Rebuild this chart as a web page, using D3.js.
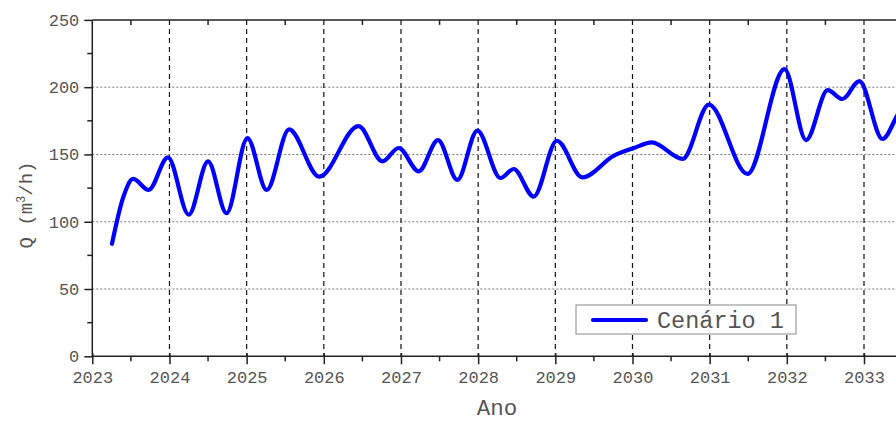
<!DOCTYPE html>
<html>
<head>
<meta charset="utf-8">
<script src="https://cdn.jsdelivr.net/npm/d3@7"></script>
<style>
  body { margin: 0; background: #fff; }
  svg { display: block; }
  text { font-family: "Courier New", "Liberation Mono", monospace; }
</style>
</head>
<body>
<div id="chart"></div>
<script>
// year (decimal) and flow Q in m3/h
const years = [2023.255, 2023.40, 2023.53, 2023.73, 2023.98, 2024.25, 2024.50, 2024.74, 2025.01, 2025.26,
    2025.55, 2025.94, 2026.45, 2026.76, 2026.97, 2027.23, 2027.48, 2027.73, 2027.99, 2028.29,
    2028.46, 2028.72, 2029.02, 2029.35, 2029.76, 2030.02, 2030.25, 2030.65, 2030.99, 2031.49,
    2031.97, 2032.25, 2032.53, 2032.72, 2032.94, 2033.24, 2033.43, 2033.6];
const values = [83.6, 118, 131.8, 123.6, 147.9, 105.3, 144.9, 106.3, 162.2, 123.6,
    168.6, 133.5, 171.1, 144.9, 154.8, 137.5, 160.7, 131.1, 167.7, 132.5,
    139.2, 118.7, 160.2, 133.0, 149.1, 154.8, 159.0, 146.7, 187.0, 135.5,
    213.4, 160.7, 197.8, 191.2, 204.5, 161.5, 178.8, 195];
const yearTicks = [2023, 2024, 2025, 2026, 2027, 2028, 2029, 2030, 2031, 2032, 2033];
const qTicks = [0, 50, 100, 150, 200, 250];
const seriesName = "Cenário 1";

const data = years.map((y, i) => ({ year: y, q: values[i] }));

const W = 896, H = 421;
const pLeft = 92.3, pTop = 19.9, pBottom = 356.3;

const svg = d3.select("#chart").append("svg")
    .attr("width", W)
    .attr("height", H);

const x = d3.scaleLinear().domain([2023, 2034]).range([pLeft, pLeft + 11 * 77.17]);
const y = d3.scaleLinear().domain([0, 250]).range([pBottom, pTop]);

/* grid */
svg.append("g").selectAll("line")
    .data(qTicks.filter(d => d > 0 && d < 250))
    .enter().append("line")
    .attr("x1", pLeft).attr("x2", W)
    .attr("y1", d => y(d)).attr("y2", d => y(d))
    .attr("stroke", "#777").attr("stroke-width", 1)
    .attr("stroke-dasharray", "2,2");

svg.append("g").selectAll("line")
    .data(yearTicks.filter(d => d > 2023))
    .enter().append("line")
    .attr("x1", d => x(d)).attr("x2", d => x(d))
    .attr("y1", pTop).attr("y2", pBottom)
    .attr("stroke", "#111").attr("stroke-width", 1.2)
    .attr("stroke-dasharray", "5,4");

/* curve */
svg.append("clipPath").attr("id", "plot")
    .append("rect").attr("x", pLeft).attr("y", pTop).attr("width", W - pLeft).attr("height", pBottom - pTop);

const line = d3.line()
    .x(d => x(d.year))
    .y(d => y(d.q))
    .curve(d3.curveMonotoneX);

svg.append("path")
    .datum(data)
    .attr("clip-path", "url(#plot)")
    .attr("fill", "none")
    .attr("stroke", "#0000ff")
    .attr("stroke-width", 4.2)
    .attr("stroke-linejoin", "round")
    .attr("stroke-linecap", "round")
    .attr("d", line);

/* axes */
const xAxis = d3.axisBottom(x).tickValues(yearTicks).tickFormat(d3.format("d")).tickSize(8).tickPadding(7);
const gx = svg.append("g").attr("transform", `translate(0,${pBottom})`).call(xAxis);
gx.select(".domain").remove();
gx.selectAll(".tick line").attr("y1", -3).attr("stroke", "#222").attr("stroke-width", 1.5);

const minorYears = d3.range(2023.5, 2034, 1);
svg.append("g").selectAll("line")
    .data(minorYears).enter().append("line")
    .attr("x1", d => x(d)).attr("x2", d => x(d))
    .attr("y1", pBottom).attr("y2", pBottom + 5)
    .attr("stroke", "#222").attr("stroke-width", 1.5);
svg.append("g").selectAll("line")
    .data(minorYears).enter().append("line")
    .attr("x1", d => x(d)).attr("x2", d => x(d))
    .attr("y1", pTop).attr("y2", pTop + 5)
    .attr("stroke", "#222").attr("stroke-width", 1.5);

const yAxis = d3.axisLeft(y).tickValues(qTicks).tickSize(8).tickPadding(5);
const gy = svg.append("g").attr("transform", `translate(${pLeft},0)`).call(yAxis);
gy.select(".domain").remove();
gy.selectAll(".tick line").attr("stroke", "#222").attr("stroke-width", 1.5);

svg.append("g").selectAll("line")
    .data(d3.range(25, 250, 50)).enter().append("line")
    .attr("x1", pLeft - 5).attr("x2", pLeft)
    .attr("y1", d => y(d)).attr("y2", d => y(d))
    .attr("stroke", "#222").attr("stroke-width", 1.5);

[gx, gy].forEach(g => g.selectAll(".tick text")
    .attr("fill", "#555")
    .style("font-size", "17px")
    .style("font-family", "\"Courier New\", \"Liberation Mono\", monospace"));

svg.append("line")
    .attr("x1", pLeft).attr("x2", W).attr("y1", pBottom).attr("y2", pBottom)
    .attr("stroke", "#222").attr("stroke-width", 1.5);
svg.append("line")
    .attr("x1", pLeft).attr("x2", W).attr("y1", pTop).attr("y2", pTop)
    .attr("stroke", "#222").attr("stroke-width", 1.5);
svg.append("line")
    .attr("x1", pLeft).attr("x2", pLeft).attr("y1", pTop).attr("y2", pBottom)
    .attr("stroke", "#222").attr("stroke-width", 1.5);

/* axis titles */
svg.append("text")
    .attr("x", 497).attr("y", 415)
    .attr("text-anchor", "middle")
    .attr("fill", "#555")
    .style("font-size", "22.5px")
    .text("Ano");

const yl = svg.append("text")
    .attr("transform", "translate(32,205) rotate(-90)")
    .attr("text-anchor", "middle")
    .attr("fill", "#555")
    .style("font-size", "19px");
yl.append("tspan").text("Q (m");
yl.append("tspan").attr("dy", -7).style("font-size", "12px").text("3");
yl.append("tspan").attr("dy", 7).text("/h)");

/* legend */
const lg = svg.append("g");
lg.append("rect")
    .attr("x", 576).attr("y", 305).attr("width", 220).attr("height", 29)
    .attr("fill", "#fff").attr("stroke", "#888").attr("stroke-width", 1);
lg.append("line")
    .attr("x1", 593).attr("x2", 646).attr("y1", 320).attr("y2", 320)
    .attr("stroke", "#0000ff").attr("stroke-width", 4.2).attr("stroke-linecap", "round");
lg.append("text")
    .attr("x", 657).attr("y", 327.5)
    .attr("fill", "#555")
    .style("font-size", "23.5px")
    .text(seriesName);
</script>
</body>
</html>
